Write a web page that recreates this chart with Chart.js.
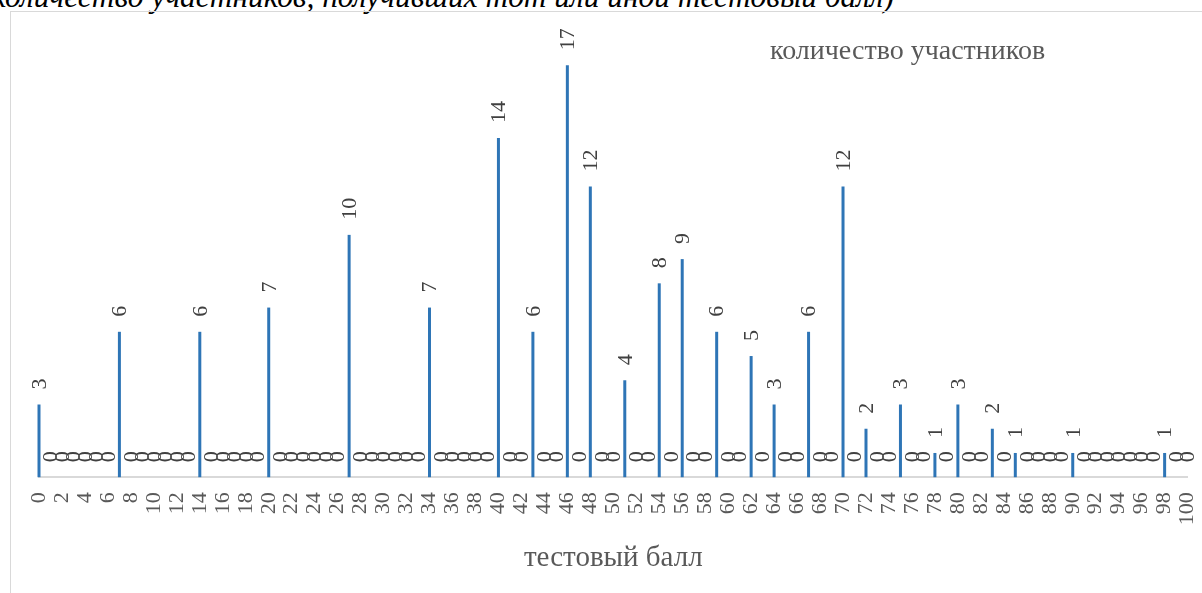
<!DOCTYPE html>
<html lang="ru">

<head>
  <meta charset="UTF-8">
  <title>тестовый балл</title>
  <script src="https://cdn.jsdelivr.net/npm/chart.js@4.4.1/dist/chart.umd.min.js"></script>
  <style>
    body {
      margin: 0;
      width: 1202px;
      height: 593px;
      overflow: hidden;
      position: relative;
      background: white;
      font-family: "Liberation Serif", serif;
    }

    .caption {
      position: absolute;
      top: -19px;
      right: 308px;
      white-space: nowrap;
      font-style: italic;
      font-size: 31.4px;
      line-height: 32px;
      color: black;
    }

    .frame {
      position: absolute;
      left: 10px;
      top: 11px;
      width: 1220px;
      height: 620px;
      border: 1px solid #d9d9d9;
    }

    .chart_box {
      position: absolute;
      left: 11px;
      top: 12px;
    }

    .series_name {
      position: absolute;
      left: 770px;
      top: 34px;
      font-size: 28px;
      color: #595959;
      white-space: nowrap;
    }
  </style>
</head>

<body>
  <div class="caption">(количество участников, получивших тот или иной тестовый балл)</div>
  <div class="frame"></div>
  <div class="chart_box">
    <canvas id="myChart" width="1218" height="581"></canvas>
  </div>
  <div class="series_name">количество участников</div>

  <script>
    // тестовый балл 0..100
    const scores = [
      0, 1, 2, 3, 4, 5, 6, 7, 8, 9, 10, 11, 12, 13, 14, 15, 16, 17, 18, 19,
      20, 21, 22, 23, 24, 25, 26, 27, 28, 29, 30, 31, 32, 33, 34, 35, 36, 37, 38, 39,
      40, 41, 42, 43, 44, 45, 46, 47, 48, 49, 50, 51, 52, 53, 54, 55, 56, 57, 58, 59,
      60, 61, 62, 63, 64, 65, 66, 67, 68, 69, 70, 71, 72, 73, 74, 75, 76, 77, 78, 79,
      80, 81, 82, 83, 84, 85, 86, 87, 88, 89, 90, 91, 92, 93, 94, 95, 96, 97, 98, 99,
      100
    ];
    // количество участников
    const counts = [
      3, 0, 0, 0, 0, 0, 0, 6, 0, 0, 0, 0, 0, 0, 6, 0, 0, 0, 0, 0,
      7, 0, 0, 0, 0, 0, 0, 10, 0, 0, 0, 0, 0, 0, 7, 0, 0, 0, 0, 0,
      14, 0, 0, 6, 0, 0, 17, 0, 12, 0, 0, 4, 0, 0, 8, 0, 9, 0, 0, 6,
      0, 0, 5, 0, 3, 0, 0, 6, 0, 0, 12, 0, 2, 0, 0, 3, 0, 0, 1, 0,
      3, 0, 0, 2, 0, 1, 0, 0, 0, 0, 1, 0, 0, 0, 0, 0, 0, 0, 1, 0,
      0
    ];
    const yMax = 18;

    const textGray = '#595959';
    const labelGray = '#404040';
    const barBlue = '#2e75b6';

    // подписи значений, повернутые на 90 градусов
    const valueLabels = {
      id: 'valueLabels',
      afterDatasetsDraw(chart) {
        const ctx = chart.ctx;
        const meta = chart.getDatasetMeta(0);
        ctx.save();
        ctx.font = '22px "Liberation Serif"';
        ctx.fillStyle = labelGray;
        ctx.textAlign = 'left';
        ctx.textBaseline = 'middle';
        meta.data.forEach((bar, i) => {
          ctx.save();
          ctx.translate(bar.x, bar.y - 15);
          ctx.rotate(-Math.PI / 2);
          ctx.fillText(String(counts[i]), 0, 1);
          ctx.restore();
        });
        ctx.restore();
      }
    };

    new Chart(document.getElementById('myChart'), {
      type: 'bar',
      data: {
        labels: scores,
        datasets: [{
          label: 'количество участников',
          data: counts,
          backgroundColor: barBlue,
          barThickness: 3,
          inflateAmount: 0,
          clip: false
        }]
      },
      options: {
        responsive: false,
        animation: false,
        devicePixelRatio: 1,
        layout: {
          padding: { left: 28, right: 14, top: 29, bottom: 17 }
        },
        plugins: {
          legend: { display: false },
          tooltip: { enabled: false }
        },
        scales: {
          x: {
            offset: false,
            grid: { display: false, drawTicks: false },
            border: { display: true, color: '#d9d9d9', width: 2 },
            ticks: {
              autoSkip: false,
              maxRotation: 90,
              minRotation: 90,
              padding: 15,
              color: textGray,
              font: { family: 'Liberation Serif', size: 22 },
              callback: (v, i) => (i % 2 === 0 ? String(scores[i]) : '')
            },
            title: {
              display: true,
              text: 'тестовый балл',
              color: textGray,
              font: { family: 'Liberation Serif', size: 29 },
              padding: { top: 1, bottom: 0 }
            }
          },
          y: {
            display: false,
            min: 0,
            max: yMax
          }
        }
      },
      plugins: [valueLabels]
    });
  </script>
</body>

</html>
